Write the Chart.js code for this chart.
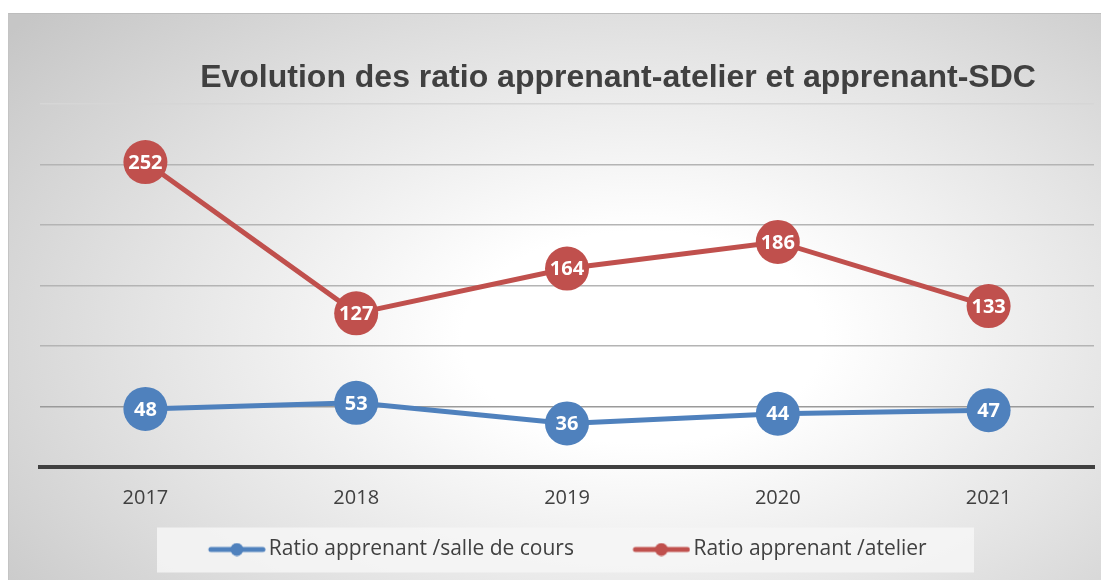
<!DOCTYPE html>
<html>
<head>
<meta charset="utf-8">
<script src="https://cdn.jsdelivr.net/npm/chart.js@4"></script>
<style>
    body { margin: 0; background: #ffffff; }
    #frame {
        position: absolute; left: 8px; top: 13px; width: 1092px; height: 567px;
        border-top: 1px solid #bdbdbd; border-left: 1px solid #c4c4c4;
        background: radial-gradient(ellipse 75% 85% at 58% 57%, #ffffff 0%, #ffffff 22%, #e4e4e4 60%, #c6c6c6 100%);
    }
</style>
</head>
<body>
<div id="frame"><canvas id="myChart" width="1092" height="567"></canvas></div>
<script>
// Chart data
const titleText = 'Evolution des ratio apprenant-atelier et apprenant-SDC';
const years = ['2017', '2018', '2019', '2020', '2021'];
const seriesNames = ['Ratio apprenant /salle de cours', 'Ratio apprenant /atelier'];
const salleDeCours = [48, 53, 36, 44, 47];
const atelier = [252, 127, 164, 186, 133];
const yTicks = [0, 50, 100, 150, 200, 250, 300];

const blue = '#4f81bd';
const red = '#c0504d';

// little line + dot marker for the legend (drawn wider than its box so it sits next to the text)
function legendMarker(color) {
    let c = document.createElement('canvas');
    c.width = 114; c.height = 14;
    let g = c.getContext('2d');
    g.strokeStyle = color;
    g.lineWidth = 5;
    g.lineCap = 'round';
    g.beginPath(); g.moveTo(59, 7); g.lineTo(111, 7); g.stroke();
    g.fillStyle = color;
    g.beginPath(); g.arc(85, 7, 6.5, 0, Math.PI * 2); g.fill();
    return c;
}
const markers = [legendMarker(blue), legendMarker(red)];

// title drawn a bit right of centre, like the original
const titlePlugin = {
    id: 'titleText',
    afterDraw(chart) {
        let ctx = chart.ctx;
        ctx.save();
        ctx.font = 'bold 32px "Liberation Sans", Arial, sans-serif';
        ctx.fillStyle = '#404040';
        ctx.textAlign = 'center';
        ctx.textBaseline = 'alphabetic';
        ctx.fillText(titleText, 609, 73);
        ctx.restore();
    }
};

// nudge the legend left so the visible part is centred, then paint its light box
const legendBox = {
    id: 'legendBox',
    afterLayout(chart) {
        let l = chart.legend;
        let d = (l.left + l.right) / 2 - 534;
        l.left -= d;
        l.right -= d;
    },
    beforeDraw(chart) {
        let boxes = chart.legend.legendHitBoxes;
        if (!boxes || !boxes.length) return;
        let cy = boxes[0].top + boxes[0].height / 2;
        let ctx = chart.ctx;
        ctx.save();
        ctx.fillStyle = 'rgba(246,246,246,0.85)';
        ctx.fillRect(148, cy - 22, 817, 45);
        ctx.restore();
    }
};

// values written inside the circles
const valueLabels = {
    id: 'valueLabels',
    afterDatasetsDraw(chart) {
        let ctx = chart.ctx;
        ctx.save();
        ctx.font = 'bold 20px "Open Sans", sans-serif';
        ctx.fillStyle = '#ffffff';
        ctx.textAlign = 'center';
        ctx.textBaseline = 'middle';
        chart.data.datasets.forEach((ds, i) => {
            chart.getDatasetMeta(i).data.forEach((pt, j) => {
                ctx.fillText(String(ds.data[j]), pt.x, pt.y + 1);
            });
        });
        ctx.restore();
    }
};

let ctx = document.getElementById('myChart').getContext('2d');
new Chart(ctx, {
    type: 'line',
    data: {
        labels: years,
        datasets: [
            {
                label: seriesNames[0],
                data: salleDeCours,
                borderColor: blue,
                backgroundColor: blue,
                borderWidth: 5,
                pointRadius: 22,
                pointHoverRadius: 22,
                pointBorderWidth: 0,
                tension: 0
            },
            {
                label: seriesNames[1],
                data: atelier,
                borderColor: red,
                backgroundColor: red,
                borderWidth: 5,
                pointRadius: 22,
                pointHoverRadius: 22,
                pointBorderWidth: 0,
                tension: 0
            }
        ]
    },
    options: {
        responsive: false,
        animation: false,
        layout: { autoPadding: false, padding: { top: 90, left: 31, right: 7, bottom: 11 } },
        plugins: {
            title: { display: false },
            tooltip: { enabled: false },
            legend: {
                position: 'bottom',
                labels: {
                    usePointStyle: true,
                    pointStyleWidth: 99,
                    padding: 10,
                    color: '#404040',
                    font: { family: '"Open Sans", sans-serif', size: 21 },
                    generateLabels(chart) {
                        let items = Chart.defaults.plugins.legend.labels.generateLabels(chart);
                        items.forEach((it, i) => { it.pointStyle = markers[i]; });
                        return items;
                    }
                }
            }
        },
        scales: {
            x: {
                offset: true,
                grid: { display: false, drawTicks: false },
                border: { display: true, color: '#404040', width: 4 },
                ticks: {
                    padding: 19,
                    color: '#404040',
                    font: { family: '"Open Sans", sans-serif', size: 20 }
                }
            },
            y: {
                min: yTicks[0],
                max: yTicks[yTicks.length - 1],
                afterBuildTicks(axis) { axis.ticks = yTicks.map(v => ({ value: v })); },
                ticks: { display: false },
                border: { display: false },
                grid: {
                    drawTicks: false,
                    lineWidth: 1.5,
                    color: c => {
                        if (c.tick.value === 0) return 'rgba(0,0,0,0)';
                        if (c.tick.value === 300) return '#d6d6d6';
                        if (c.tick.value === 50) return '#9a9a9a';
                        return '#b4b4b4';
                    }
                }
            }
        }
    },
    plugins: [legendBox, valueLabels, titlePlugin]
});
</script>
</body>
</html>
